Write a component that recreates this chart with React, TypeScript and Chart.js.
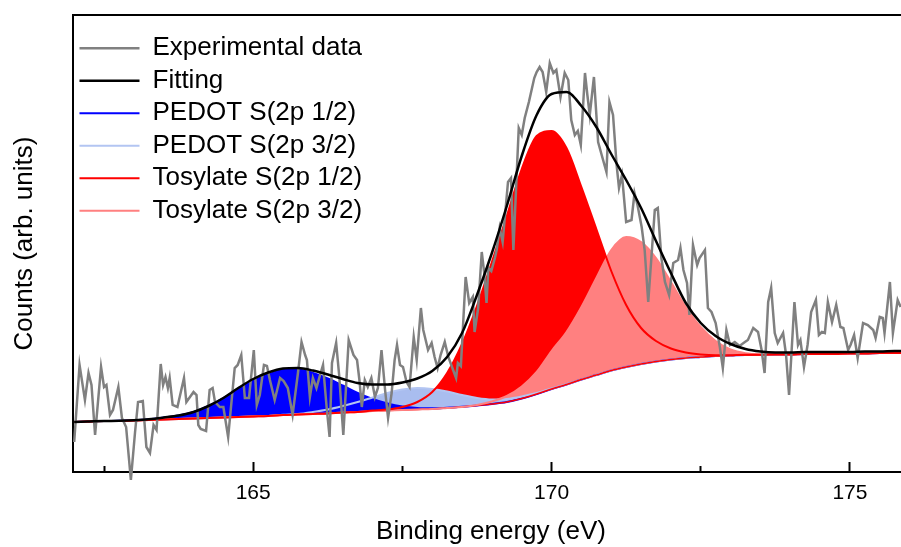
import React, { useEffect, useRef } from 'react';
import { Chart, registerables } from 'chart.js';

Chart.register(...registerables);

// ---- axis range and ticks (binding energy, eV) ----
const X_MIN = 161.98;
const X_MAX = 175.99;
const X_TICKS = [162.5, 165, 167.5, 170, 172.5, 175];
const Y_MIN = 0;
const Y_MAX = 457;

// ---- experimental spectrum (noisy) ----
const EXP_ENERGY = [
  162.0, 162.09, 162.18, 162.24, 162.29, 162.35, 162.45, 162.5, 162.54, 162.6,
  162.65, 162.74, 162.8, 162.87, 162.95, 163.02, 163.07, 163.15, 163.21, 163.27,
  163.33, 163.38, 163.45, 163.49, 163.53, 163.57, 163.6, 163.65, 163.73, 163.84,
  163.88, 163.94, 164.0, 164.05, 164.08, 164.12, 164.21, 164.27, 164.32, 164.36,
  164.44, 164.5, 164.58, 164.69, 164.74, 164.8, 164.86, 164.93, 165.01, 165.06,
  165.11, 165.18, 165.23, 165.28, 165.36, 165.45, 165.51, 165.58, 165.66, 165.75,
  165.81, 165.87, 165.9, 165.95, 166.0, 166.06, 166.12, 166.17, 166.23, 166.28,
  166.32, 166.39, 166.44, 166.51, 166.6, 166.68, 166.74, 166.78, 166.82, 166.87,
  166.92, 166.98, 167.04, 167.09, 167.15, 167.21, 167.26, 167.32, 167.37, 167.41,
  167.46, 167.51, 167.57, 167.62, 167.69, 167.74, 167.81, 167.85, 167.89, 167.93,
  167.99, 168.04, 168.09, 168.14, 168.21, 168.27, 168.35, 168.4, 168.43, 168.48,
  168.56, 168.62, 168.68, 168.71, 168.77, 168.83, 168.87, 168.91, 168.94, 168.99,
  169.05, 169.08, 169.13, 169.18, 169.27, 169.32, 169.36, 169.41, 169.45, 169.5,
  169.55, 169.62, 169.71, 169.75, 169.8, 169.85, 169.89, 169.91, 169.97, 170.03,
  170.08, 170.15, 170.22, 170.28, 170.33, 170.39, 170.44, 170.49, 170.56, 170.6,
  170.64, 170.71, 170.78, 170.84, 170.92, 170.97, 171.03, 171.09, 171.13, 171.18,
  171.25, 171.34, 171.39, 171.44, 171.51, 171.56, 171.62, 171.67, 171.73, 171.78,
  171.84, 171.9, 171.97, 172.04, 172.12, 172.16, 172.21, 172.27, 172.31, 172.37,
  172.44, 172.48, 172.57, 172.62, 172.68, 172.75, 172.82, 172.87, 172.93, 172.99,
  173.07, 173.15, 173.24, 173.29, 173.38, 173.46, 173.52, 173.57, 173.63, 173.68,
  173.74, 173.79, 173.88, 173.93, 173.98, 174.07, 174.13, 174.17, 174.23, 174.29,
  174.35, 174.43, 174.48, 174.53, 174.58, 174.63, 174.7, 174.77, 174.84, 174.89,
  174.97, 175.01, 175.07, 175.13, 175.22, 175.3, 175.39, 175.43, 175.5, 175.55,
  175.58, 175.67, 175.72, 175.8, 175.85,
];
const EXP_COUNTS = [
  30, 107, 72, 99, 87, 37, 105, 85, 87, 57,
  62, 85, 54, 45, -8, 40, 70, 71, 25, 19,
  47, 42, 108, 87, 95, 84, 94, 67, 65, 94,
  70, 75, 80, 77, 47, 43, 41, 82, 84, 70,
  65, 65, 35, 104, 107, 117, 74, 74, 122, 67,
  77, 107, 106, 92, 72, 94, 91, 84, 57, 99,
  130, 117, 112, 75, 94, 84, 97, 107, 65, 35,
  109, 129, 97, 37, 132, 117, 112, 92, 65, 92,
  85, 94, 75, 84, 122, 82, 54, 79, 112, 127,
  107, 105, 90, 85, 135, 112, 164, 142, 132, 122,
  129, 115, 104, 117, 130, 115, 102, 94, 109, 106,
  195, 169, 175, 140, 164, 220, 200, 169, 204, 201,
  214, 222, 244, 230, 290, 294, 222, 290, 344, 337,
  354, 370, 394, 400, 405, 400, 387, 380, 409, 399,
  402, 375, 399, 392, 352, 337, 341, 327, 399, 377,
  357, 395, 330, 317, 300, 370, 357, 307, 284, 297,
  250, 252, 279, 267, 245, 222, 170, 212, 262, 264,
  214, 190, 177, 209, 212, 224, 202, 189, 157, 227,
  207, 214, 222, 164, 160, 149, 125, 104, 142, 127,
  130, 126, 130, 132, 144, 140, 122, 99, 170, 184,
  139, 129, 139, 117, 77, 170, 127, 132, 105, 127,
  160, 172, 137, 140, 139, 170, 150, 167, 145, 144,
  122, 127, 137, 114, 149, 147, 142, 134, 155, 154,
  139, 190, 139, 172, 165,
];

// ---- fitted curves, sampled every 0.25 eV ----
const FIT_ENERGY = [
  162.0, 162.25, 162.5, 162.75, 163.0, 163.25, 163.5, 163.75, 164.0, 164.25,
  164.5, 164.75, 165.0, 165.25, 165.5, 165.75, 166.0, 166.25, 166.5, 166.75,
  167.0, 167.25, 167.5, 167.75, 168.0, 168.25, 168.5, 168.75, 169.0, 169.25,
  169.5, 169.75, 170.0, 170.25, 170.5, 170.75, 171.0, 171.25, 171.5, 171.75,
  172.0, 172.25, 172.5, 172.75, 173.0, 173.25, 173.5, 173.75, 174.0, 174.25,
  174.5, 174.75, 175.0, 175.25, 175.5, 175.75, 176.0,
];
const BACKGROUND = [
  50, 50.5, 51, 51, 51.5, 52, 52.5, 53, 53.5, 54,
  54.5, 55, 55.5, 56, 57, 57.5, 58, 58.5, 59.5, 60,
  61, 61.5, 62, 62.5, 63, 64, 65, 66.5, 68, 70,
  73.5, 78, 83, 87.5, 92.5, 97, 101.5, 105, 108, 110.5,
  112.5, 114, 115, 116, 116.5, 117, 117, 117.5, 117.5, 118,
  118, 118, 118.5, 118.5, 119, 119, 119,
];
const FITTING = [
  50, 50.5, 51, 51.2, 51.8, 52.8, 54.5, 56.5, 60, 66,
  74, 84, 93, 99.5, 103.5, 104, 101.5, 97.5, 93, 89,
  87.5, 87.5, 89.5, 93.5, 101, 115, 139, 177, 219, 266,
  316, 357, 378, 380, 366, 345, 318, 292, 264, 231,
  199, 169, 149, 136, 128, 123, 120.5, 119.5, 119.5, 120,
  120, 120, 120, 120.5, 120.5, 121, 121,
];
const PEDOT_12 = [
  50, 50.5, 51, 51.2, 51.8, 52.8, 54.5, 56.5, 60, 66,
  74, 83, 91, 97.5, 102, 102.5, 99, 93.5, 86.5, 79,
  73, 68.5, 65.5, 64, 63.7, 64.3, 65.2, 66.6, 68, 70,
  73.5, 78, 83, 87.5, 92.5, 97, 101.5, 105, 108, 110.5,
  112.5, 114, 115, 116, 116.5, 117, 117, 117.5, 117.5, 118,
  118, 118, 118.5, 118.5, 119, 119, 119,
];
const PEDOT_32 = [
  50, 50.5, 51, 51, 51.5, 52, 52.5, 53, 53.5, 54,
  54.5, 55, 55.5, 56, 57.2, 58, 60, 62.5, 66, 70,
  74.5, 79, 82.5, 84, 83, 80.5, 77, 74, 72.5, 73,
  75.5, 79, 83.5, 87.8, 92.6, 97, 101.5, 105, 108, 110.5,
  112.5, 114, 115, 116, 116.5, 117, 117, 117.5, 117.5, 118,
  118, 118, 118.5, 118.5, 119, 119, 119,
];
const TOSYLATE_12 = [
  50, 50.5, 51, 51, 51.5, 52, 52.5, 53, 53.5, 54,
  54.5, 55, 55.5, 56, 57, 57.5, 58, 58.5, 59.5, 60,
  61.5, 62.5, 65, 70, 80, 99, 128, 166, 210, 256,
  303, 336, 341, 324, 285, 243, 201, 167, 144, 131,
  123.5, 119.5, 117.5, 116.7, 116.8, 117.2, 117.2, 117.6, 117.5, 118,
  118, 118, 118.5, 118.5, 119, 119, 119,
];
const TOSYLATE_32 = [
  50, 50.5, 51, 51, 51.5, 52, 52.5, 53, 53.5, 54,
  54.5, 55, 55.5, 56, 57, 57.5, 58, 58.5, 59.5, 60,
  61, 61.5, 62, 62.5, 63, 64, 65, 67, 70.5, 76,
  85.5, 100, 121, 140, 165, 194, 222, 235, 230, 214,
  190, 165, 145, 131, 122.5, 118.8, 117.8, 117.7, 117.6, 118,
  118, 118, 118.5, 118.5, 119, 119, 119,
];

// ---- series colours ----
const C_EXP = '#808080';
const C_FIT = '#000000';
const C_P12 = '#0000ff';
const C_P32_LINE = '#b3c5f2';
const C_P32_FILL = '#a9bdef';
const C_T12 = '#ff0000';
const C_T32 = '#ff8080';

const FONT = "Arial, 'Liberation Sans', Helvetica, sans-serif";
const BG_INDEX = 10;
const LEGEND_COUNT = 6;

export default function App() {
  const ref = useRef<HTMLCanvasElement | null>(null);

  useEffect(() => {
    const canvas = ref.current;
    if (!canvas) return;
    const curve = (ys: number[]) => FIT_ENERGY.map((x, i) => ({ x, y: ys[i] }));
    // outline of a component (shown in legend)
    const compLine = (label: string, ys: number[], color: string, order: number) => ({
      label,
      data: curve(ys),
      borderColor: color,
      backgroundColor: color,
      borderWidth: 2,
      pointRadius: 0,
      cubicInterpolationMode: 'monotone',
      fill: false,
      order,
    });
    // filled area of a component, down to the background
    const compFill = (label: string, ys: number[], color: string, order: number) => ({
      label,
      data: curve(ys),
      borderColor: 'rgba(0,0,0,0)',
      backgroundColor: color,
      borderWidth: 0,
      pointRadius: 0,
      cubicInterpolationMode: 'monotone',
      fill: BG_INDEX,
      order,
    });

    const chart = new Chart(canvas, {
      type: 'line',
      data: {
        datasets: [
          {
            label: 'Experimental data',
            data: EXP_ENERGY.map((x, i) => ({ x, y: EXP_COUNTS[i] })),
            borderColor: C_EXP,
            backgroundColor: C_EXP,
            borderWidth: 2.5,
            pointRadius: 0,
            tension: 0,
            fill: false,
            order: 1,
            clip: false,
          },
          {
            label: 'Fitting',
            data: curve(FITTING),
            borderColor: C_FIT,
            backgroundColor: C_FIT,
            borderWidth: 2.5,
            pointRadius: 0,
            cubicInterpolationMode: 'monotone',
            fill: false,
            order: 0,
          },
          compLine('PEDOT S(2p 1/2)', PEDOT_12, C_P12, 5),
          compLine('PEDOT S(2p 3/2)', PEDOT_32, C_P32_LINE, 4),
          compLine('Tosylate S(2p 1/2)', TOSYLATE_12, C_T12, 2),
          compLine('Tosylate S(2p 3/2)', TOSYLATE_32, C_T32, 3),
          compFill('PEDOT S(2p 1/2) area', PEDOT_12, C_P12, 10),
          compFill('PEDOT S(2p 3/2) area', PEDOT_32, C_P32_FILL, 11),
          compFill('Tosylate S(2p 3/2) area', TOSYLATE_32, C_T32, 12),
          compFill('Tosylate S(2p 1/2) area', TOSYLATE_12, C_T12, 13),
          {
            // lower edge of the fitted areas
            label: 'Background',
            data: curve(BACKGROUND),
            borderColor: C_T12,
            backgroundColor: 'rgba(0,0,0,0)',
            borderWidth: 1.5,
            pointRadius: 0,
            cubicInterpolationMode: 'monotone',
            fill: false,
            order: 3.5,
          },
        ],
      },
      options: {
        responsive: false,
        animation: false,
        devicePixelRatio: 1,
        events: [],
        layout: { padding: { top: 15, left: 0, right: 0, bottom: 0 } },
        plugins: {
          legend: {
            position: 'chartArea',
            align: 'start',
            fullSize: false,
            title: {
              display: true,
              text: '',
              font: { family: FONT, size: 10 },
              padding: { top: 16.8, bottom: 0 },
            },
            labels: {
              boxWidth: 60,
              boxHeight: 0,
              padding: 6.5,
              color: '#000000',
              font: { family: FONT, size: 26 },
              filter: (item: any) => item.datasetIndex < LEGEND_COUNT,
              sort: (a: any, b: any) => a.datasetIndex - b.datasetIndex,
            },
          },
          tooltip: { enabled: false },
          filler: { drawTime: 'beforeDatasetsDraw' },
        },
        scales: {
          x: {
            type: 'linear',
            position: 'bottom',
            min: X_MIN,
            max: X_MAX,
            afterBuildTicks: (s: any) => {
              s.ticks = X_TICKS.map((value) => ({ value }));
            },
            afterFit: (s: any) => {
              s.height = 75;
            },
            ticks: {
              autoSkip: false,
              maxRotation: 0,
              padding: 19,
              color: '#000000',
              font: { family: FONT, size: 21 },
              callback: (v: any) => (Number(v) % 5 === 0 ? String(v) : ''),
            },
            grid: {
              display: true,
              drawOnChartArea: false,
              drawTicks: true,
              tickLength: -10,
              tickWidth: 2,
              tickColor: '#000000',
              tickBorderDash: (ctx: any) => (ctx.tick && ctx.tick.value % 5 === 0 ? [] : [7, 100]),
            },
            border: { display: true, color: '#000000', width: 2 },
            title: {
              display: true,
              text: 'Binding energy (eV)',
              color: '#000000',
              font: { family: FONT, size: 26 },
              padding: { top: 0, bottom: 0 },
            },
          },
          x2: {
            type: 'linear',
            position: 'top',
            min: X_MIN,
            max: X_MAX,
            ticks: { display: false },
            grid: { display: false, drawTicks: false },
            border: { display: true, color: '#000000', width: 2 },
          },
          y: {
            type: 'linear',
            position: 'left',
            min: Y_MIN,
            max: Y_MAX,
            afterFit: (s: any) => {
              s.width = 73;
            },
            ticks: { display: false },
            grid: { display: false, drawTicks: false },
            border: { display: true, color: '#000000', width: 2 },
            title: {
              display: true,
              text: 'Counts (arb. units)',
              color: '#000000',
              font: { family: FONT, size: 26 },
              padding: { top: 9.4, bottom: 0 },
            },
          },
        },
      } as any,
    } as any);

    return () => chart.destroy();
  }, []);

  return (
    <div
      style={{
        position: 'fixed',
        left: 0,
        top: 0,
        width: 901,
        height: 547,
        overflow: 'hidden',
        background: '#ffffff',
      }}
    >
      <canvas ref={ref} width={909} height={547} style={{ display: 'block', width: 909, height: 547 }} />
    </div>
  );
}
